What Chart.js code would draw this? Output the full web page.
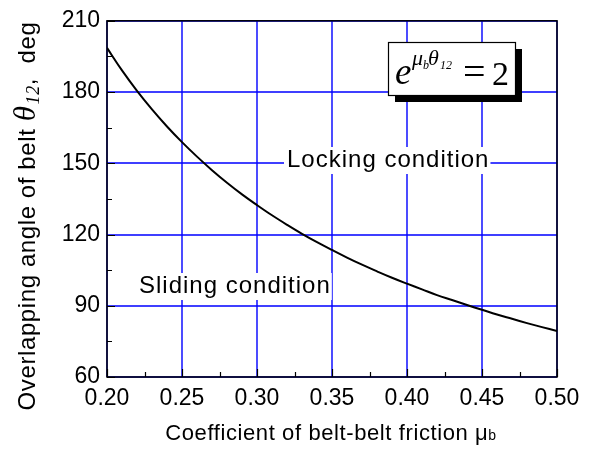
<!DOCTYPE html>
<html>
<head>
<meta charset="utf-8">
<script src="https://cdn.jsdelivr.net/npm/chart.js@4"></script>
<style>
  body { margin: 0; background: #fff; }
  #wrap { width: 611px; height: 450px; }
</style>
</head>
<body>
<div id="wrap"><canvas id="c" width="611" height="450"></canvas></div>
<script>
// friction coefficient (x) and overlapping angle in degrees (y)
const mu = [0.20, 0.21, 0.22, 0.23, 0.24, 0.25, 0.26, 0.27, 0.28, 0.29, 0.30,
            0.31, 0.32, 0.33, 0.34, 0.35, 0.36, 0.37, 0.38, 0.39, 0.40,
            0.41, 0.42, 0.43, 0.44, 0.45, 0.46, 0.47, 0.48, 0.49, 0.50];
const theta = [198.6, 189.1, 180.5, 172.7, 165.5, 158.9, 152.8, 147.1, 141.8, 136.9, 132.4,
               128.1, 124.1, 120.3, 116.8, 113.5, 110.3, 107.3, 104.5, 101.8, 99.3,
               96.9, 94.5, 92.4, 90.3, 88.3, 86.3, 84.5, 82.7, 81.0, 79.4];

// axis ranges / tick steps (every second tick is a major one, the rest are minors)
const xRange = [0.20, 0.50];
const yRange = [60, 210];
const xStep = 0.025;
const yStep = 15;

const FONT = '"Liberation Sans", Arial, sans-serif';
const SERIF = '"Liberation Serif", "Times New Roman", serif';

// draw a list of [text, font, dy, extraGap] pieces one after the other
function drawRun(ctx, parts, x, y) {
  let cx = x;
  parts.forEach(p => {
    ctx.font = p[1];
    ctx.fillText(p[0], cx, y + (p[2] || 0));
    cx += ctx.measureText(p[0]).width + (p[3] || 0);
  });
  return cx - x;
}
function runWidth(ctx, parts) {
  let w = 0;
  parts.forEach(p => { ctx.font = p[1]; w += ctx.measureText(p[0]).width + (p[3] || 0); });
  return w;
}

const decor = {
  id: 'decor',
  beforeDraw(chart) {
    const ctx = chart.ctx;
    ctx.save();
    ctx.fillStyle = '#fff';
    ctx.fillRect(0, 0, chart.width, chart.height);
    ctx.restore();
  },
  beforeDatasetsDraw(chart) {
    // blue grid at the major ticks only
    const ctx = chart.ctx;
    const a = chart.chartArea;
    const xs = chart.scales.x, ys = chart.scales.y;
    ctx.save();
    ctx.strokeStyle = '#0000ff';
    ctx.lineWidth = 1.4;
    ctx.beginPath();
    xs.ticks.forEach((t, i) => {
      if (i % 2) return;
      const px = Math.round(xs.getPixelForValue(t.value));
      ctx.moveTo(px, a.top); ctx.lineTo(px, a.bottom);
    });
    ys.ticks.forEach((t, i) => {
      if (i % 2) return;
      const py = Math.round(ys.getPixelForValue(t.value));
      ctx.moveTo(a.left, py); ctx.lineTo(a.right, py);
    });
    ctx.stroke();
    ctx.restore();
  },
  afterDatasetsDraw(chart) {
    const ctx = chart.ctx;
    const a = chart.chartArea;
    const xs = chart.scales.x, ys = chart.scales.y;
    ctx.save();

    // frame
    ctx.strokeStyle = '#000';
    ctx.lineWidth = 1.5;
    ctx.strokeRect(a.left, a.top, a.right - a.left, a.bottom - a.top);

    // inward ticks
    ctx.lineWidth = 1.2;
    ctx.beginPath();
    xs.ticks.forEach((t, i) => {
      const px = Math.round(xs.getPixelForValue(t.value)) + 0.5;
      const len = i % 2 === 0 ? 8 : 5;
      ctx.moveTo(px, a.bottom); ctx.lineTo(px, a.bottom - len);
    });
    ys.ticks.forEach((t, i) => {
      const py = Math.round(ys.getPixelForValue(t.value)) + 0.5;
      const len = i % 2 === 0 ? 8 : 5;
      ctx.moveTo(a.left, py); ctx.lineTo(a.left + len, py);
    });
    ctx.stroke();

    // region labels with white backing
    ctx.textBaseline = 'alphabetic';
    ctx.font = '24px ' + FONT;
    ctx.letterSpacing = '1px';
    [['Locking condition', 287, 167], ['Sliding condition', 139, 293]].forEach(l => {
      const w = ctx.measureText(l[0]).width;
      ctx.fillStyle = '#fff';
      ctx.fillRect(l[1] - 3, l[2] - 20, w + 4, 27);
      ctx.fillStyle = '#000';
      ctx.fillText(l[0], l[1], l[2]);
    });
    ctx.letterSpacing = '0px';

    // formula box with drop shadow
    const bx = 388, by = 42, bw = 127, bh = 53;
    ctx.fillStyle = '#000';
    ctx.fillRect(bx + 7, by + 7, bw, bh);
    ctx.fillStyle = '#fff';
    ctx.fillRect(bx, by, bw, bh);
    ctx.lineWidth = 1.2;
    ctx.strokeRect(bx + 0.5, by + 0.5, bw, bh);
    ctx.fillStyle = '#000';
    ctx.font = 'italic 37px ' + SERIF;
    ctx.fillText('e', 395, 84);
    ctx.font = 'italic 22px ' + SERIF;
    ctx.fillText('\u03bc', 412, 65);
    ctx.fillText('\u03b8', 428, 65);
    ctx.font = 'italic 12px ' + SERIF;
    ctx.fillText('b', 423, 69);
    ctx.fillText('12', 440, 69);
    ctx.font = '40px ' + SERIF;
    ctx.fillText('=', 463, 85);
    ctx.font = '34px ' + SERIF;
    ctx.fillText('2', 492, 85);

    // x axis title
    ctx.letterSpacing = '0.6px';
    const xt = [
      ['Coefficient of belt-belt friction \u03bc', '22px ' + FONT, 0],
      ['b', '14px ' + FONT, 0]
    ];
    const xw = runWidth(ctx, xt);
    drawRun(ctx, xt, 331 - xw / 2, 440);

    // y axis title (rotated)
    ctx.translate(35, 216);
    ctx.rotate(-Math.PI / 2);
    const yt = [
      ['Overlapping angle of belt ', '24px ' + FONT, 0],
      ['\u03b8', 'italic 31px ' + SERIF, 0, 1],
      ['12', 'italic 18px ' + SERIF, 4],
      [',  deg', '24px ' + FONT, 0]
    ];
    const yw = runWidth(ctx, yt);
    drawRun(ctx, yt, -yw / 2, 0);
    ctx.letterSpacing = '0px';

    ctx.restore();
  }
};

const points = mu.map((m, i) => ({ x: m, y: theta[i] }));

new Chart(document.getElementById('c'), {
  type: 'scatter',
  data: {
    datasets: [{
      data: points,
      showLine: true,
      borderColor: '#000',
      borderWidth: 2,
      pointRadius: 0,
      tension: 0.4,
      fill: false
    }]
  },
  options: {
    responsive: false,
    animation: false,
    layout: { padding: { top: 19, right: 54, left: 0, bottom: 0 } },
    plugins: { legend: { display: false }, tooltip: { enabled: false } },
    scales: {
      x: {
        type: 'linear',
        min: xRange[0], max: xRange[1],
        afterFit: s => { s.height = 73; },
        ticks: {
          stepSize: xStep,
          autoSkip: false,
          maxRotation: 0,
          padding: 8,
          color: '#000',
          font: { family: FONT, size: 23 },
          callback: (v, i) => i % 2 === 0 ? v.toFixed(2) : ''
        },
        grid: { display: false, drawTicks: false },
        border: { display: false }
      },
      y: {
        min: yRange[0], max: yRange[1],
        afterFit: s => { s.width = 107; },
        ticks: {
          stepSize: yStep,
          autoSkip: false,
          padding: 7,
          color: '#000',
          font: { family: FONT, size: 23 },
          callback: (v, i) => i % 2 === 0 ? String(v) : ''
        },
        grid: { display: false, drawTicks: false },
        border: { display: false }
      }
    }
  },
  plugins: [decor]
});
</script>
</body>
</html>
